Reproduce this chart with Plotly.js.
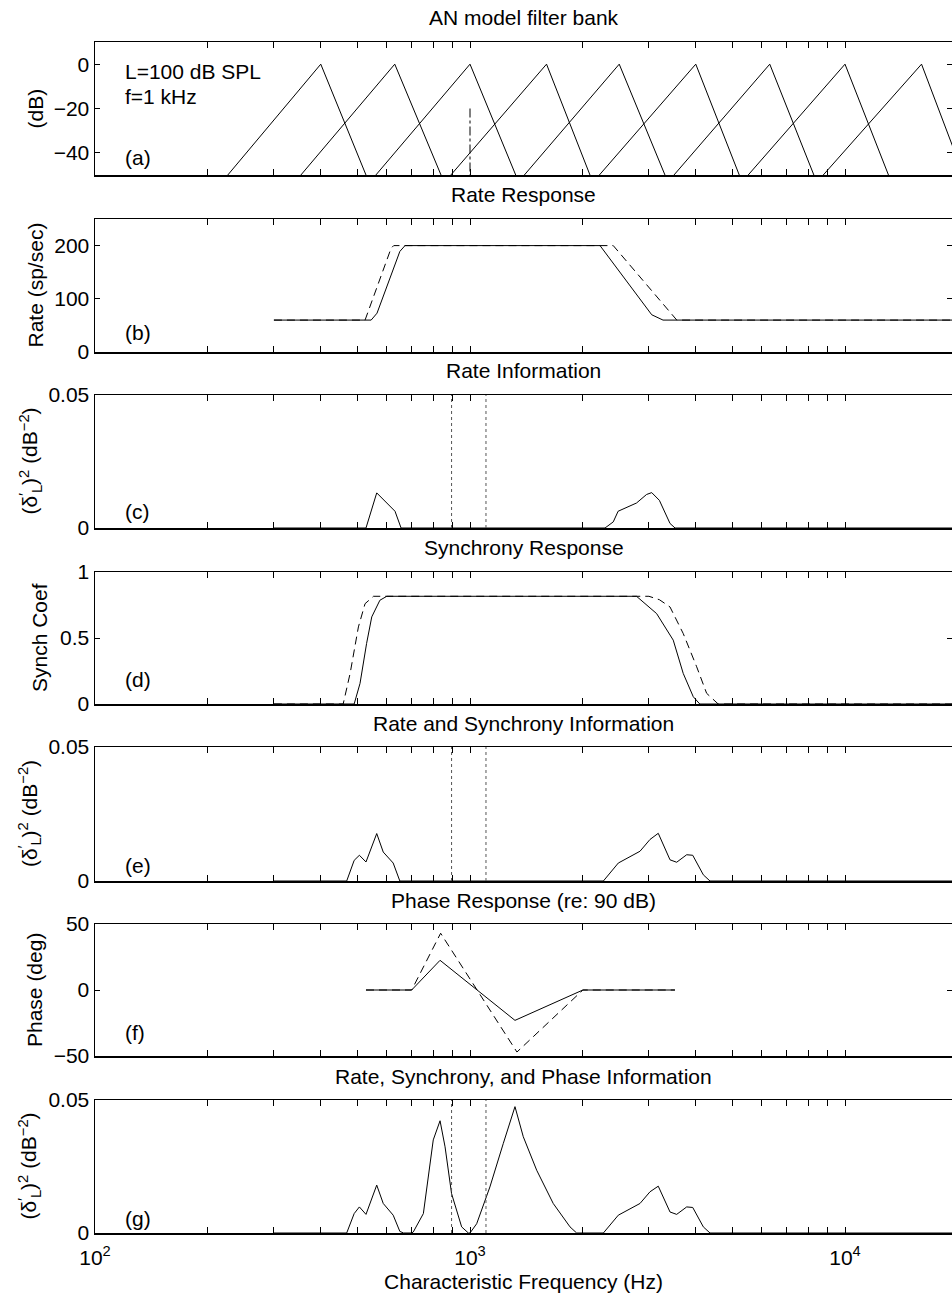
<!DOCTYPE html>
<html>
<head>
<meta charset="utf-8">
<script src="https://cdn.plot.ly/plotly-3.0.1.min.js"></script>
<style>
  html, body { margin: 0; padding: 0; background: #fff; overflow: hidden; }
  #chart { width: 952px; height: 1299px; }
</style>
</head>
<body>
<div id="chart"></div>
<script>
// ---------- data ----------
// (a) filter bank: centre frequency (peak at 0 dB) and the frequencies where each
// response has fallen to -50 dB on the low and high side
const filterCF       = [400, 630, 1000, 1600, 2500, 4000, 6300, 10000, 16000];
const filterLowEdge  = [226, 354, 561, 889, 1396, 2213, 3499, 5519, 8750];
const filterHighEdge = [528, 837, 1324, 2089, 3311, 5224, 8260, 13060, 20700];
const filterPeakDb = 0;
const filterFloorDb = -50;
const toneFreq = 1000;
const toneLevels = [-20, -50];

// (b) rate response, sp/sec (solid: L, dashed: L + dL)
const rateCF     = [300, 545, 565, 650, 671, 2222, 3052, 3271, 20000];
const rateSolid  = [60, 60, 73, 189, 200, 200, 70, 60, 60];
const rateCF2    = [300, 525, 616, 626, 2410, 3415, 3560, 20000];
const rateDashed = [60, 60, 195, 200, 200, 73, 60, 60];

// (c) rate information
const rateInfoCF = [300, 528, 564, 631, 655, 2291, 2410, 2483, 2780, 2957, 3052, 3199, 3415, 3522, 20000];
const rateInfo   = [0, 0, 0.0132, 0.0063, 0, 0, 0.0023, 0.0063, 0.0094, 0.0126, 0.0133, 0.0104, 0.0017, 0, 0];

// (d) synchrony coefficient
const synchCF     = [300, 491, 509, 530, 547, 575, 600, 2780, 3145, 3483, 3703, 3939, 4100, 20000];
const synchSolid  = [0, 0, 0.156, 0.459, 0.66, 0.786, 0.816, 0.816, 0.685, 0.484, 0.232, 0.055, 0, 0];
const synchCF2    = [300, 459, 479, 504, 525, 553, 3000, 3200, 3415, 3703, 4022, 4276, 4590, 20000];
const synchDashed = [0, 0, 0.232, 0.584, 0.76, 0.816, 0.816, 0.79, 0.735, 0.534, 0.282, 0.081, 0, 0];

// (e) rate and synchrony information
const rsInfoCF = [300, 469, 491, 507, 528, 564, 587, 624, 650, 2268, 2486, 2840, 3020, 3177, 3415, 3557, 3783, 3926, 4190, 4365, 20000];
const rsInfo   = [0, 0, 0.0077, 0.0096, 0.0071, 0.0177, 0.0108, 0.0067, 0, 0, 0.0067, 0.0111, 0.0155, 0.0178, 0.0079, 0.0070, 0.0098, 0.0096, 0.0023, 0, 0];

// (f) phase re: 90 dB, degrees
const phaseCF     = [528, 699, 832, 1318, 2000, 3520];
const phaseSolid  = [0, 0, 22.5, -23, 0, 0];
const phaseCF2    = [528, 699, 835, 1334, 2000, 3520];
const phaseDashed = [0, 0, 43, -47, 0, 0];

// (g) rate, synchrony and phase information
const allInfoCF = [300, 469, 491, 507, 528, 564, 587, 624, 650, 665, 699, 706, 751, 798, 832, 858, 893, 950, 990,
                   1000, 1042, 1130, 1227, 1318, 1387, 1506, 1667, 1848, 1925,
                   2268, 2486, 2840, 3020, 3177, 3415, 3557, 3783, 3926, 4190, 4365, 20000];
const allInfo   = [0, 0, 0.0073, 0.0098, 0.0070, 0.0180, 0.0111, 0.0067, 0.0006, 0, 0, 0.0004, 0.0073, 0.0350, 0.0422, 0.0324, 0.0148, 0.0023, 0,
                   0, 0.0035, 0.0173, 0.0337, 0.0475, 0.0362, 0.0236, 0.0111, 0.0023, 0,
                   0, 0.0067, 0.0111, 0.0155, 0.0176, 0.0079, 0.0070, 0.0098, 0.0096, 0.0023, 0, 0];

// just-noticeable frequency band drawn as dotted lines in the information panels
const jndBand = [893, 1103];

// axis text
const panelTitles = ['AN model filter bank', 'Rate Response', 'Rate Information', 'Synchrony Response',
                     'Rate and Synchrony Information', 'Phase Response (re: 90 dB)',
                     'Rate, Synchrony, and Phase Information'];
const deltaLabel = '(δ<sup>′</sup><sub>L</sub>)<sup>2</sup> (dB<sup>−2</sup>)';
const yTitles = ['(dB)', 'Rate (sp/sec)', deltaLabel, 'Synch Coef', deltaLabel, 'Phase (deg)', deltaLabel];
const panelLetters = ['(a)', '(b)', '(c)', '(d)', '(e)', '(f)', '(g)'];
const yRanges = [[-50, 10], [0, 250], [0, 0.05], [0, 1], [0, 0.05], [-50, 50], [0, 0.05]];
const yTickVals = [[-40, -20, 0], [0, 100, 200], [0, 0.05], [0, 0.5, 1], [0, 0.05], [-50, 0, 50], [0, 0.05]];
// x ticks: every 1..9 multiple of each decade, labels only on the decades
const xTickVals = [100, 200, 300, 400, 500, 600, 700, 800, 900,
                   1000, 2000, 3000, 4000, 5000, 6000, 7000, 8000, 9000,
                   10000, 20000];
const xTickText = ['10<sup>2</sup>', '', '', '', '', '', '', '', '',
                   '10<sup>3</sup>', '', '', '', '', '', '', '', '',
                   '10<sup>4</sup>', ''];
const xTitle = 'Characteristic Frequency (Hz)';

// ---------- layout geometry ----------
const W = 952, H = 1299, ML = 95;
const PX_PER_DECADE = 375;
const panelTop    = [42, 219, 395, 572, 747, 924, 1100];
const panelBottom = [175, 352, 528, 704, 881, 1056, 1233];
const yTitleCenter = [35, 35, 30, 40, 29, 35, 29];
const letterLift = [18, 20, 17, 24, 16, 24, 15];

const FONT = 'Liberation Sans, Arial, Helvetica, sans-serif';
const FS = 21;
const ax = k => (k === 0 ? '' : String(k + 1));

function line(xs, ys, k, dash) {
  return {
    type: 'scatter', mode: 'lines', x: xs, y: ys,
    xaxis: 'x' + ax(k), yaxis: 'y' + ax(k),
    line: { color: '#000', width: 1, dash: dash || 'solid' },
    hoverinfo: 'skip', showlegend: false
  };
}

const traces = [];

// (a) triangular filter shapes
const fx = [], fy = [];
filterCF.forEach((cf, i) => {
  fx.push(filterLowEdge[i], cf, filterHighEdge[i], null);
  fy.push(filterFloorDb, filterPeakDb, filterFloorDb, null);
});
traces.push(line(fx, fy, 0));
traces.push(line([toneFreq, toneFreq], toneLevels, 0, 'dashdot'));

// (b)
traces.push(line(rateCF, rateSolid, 1));
traces.push(line(rateCF2, rateDashed, 1, '8px,5px'));
// (c)
traces.push(line(rateInfoCF, rateInfo, 2));
// (d)
traces.push(line(synchCF, synchSolid, 3));
traces.push(line(synchCF2, synchDashed, 3, '8px,5px'));
// (e)
traces.push(line(rsInfoCF, rsInfo, 4));
// (f)
traces.push(line(phaseCF, phaseSolid, 5));
traces.push(line(phaseCF2, phaseDashed, 5, '8px,5px'));
// (g)
traces.push(line(allInfoCF, allInfo, 6));

// dotted band limits in the information panels
[2, 4, 6].forEach(k => {
  jndBand.forEach(f => {
    const t = line([f, f], yRanges[k], k, 'dot');
    t.line.color = '#555';
    traces.push(t);
  });
});

const layout = {
  width: W, height: H,
  margin: { l: ML, r: 0, t: 0, b: 0 },
  paper_bgcolor: '#fff', plot_bgcolor: '#fff',
  font: { family: FONT, size: FS, color: '#000' },
  showlegend: false,
  annotations: []
};

const xMax = 2 + (W - ML) / PX_PER_DECADE;

for (let k = 0; k < 7; k++) {
  const dom = [1 - panelBottom[k] / H, 1 - panelTop[k] / H];
  const last = k === 6;
  const xa = {
    type: 'log', range: [2, xMax], anchor: 'y' + ax(k),
    showline: true, linecolor: '#000', linewidth: 1.5, mirror: 'ticks',
    ticks: 'inside', ticklen: 6, tickwidth: 1, tickcolor: '#000',
    tickmode: 'array', tickvals: xTickVals, ticktext: xTickText,
    showticklabels: last, tickfont: { family: FONT, size: FS, color: '#000' },
    showgrid: false, zeroline: false, fixedrange: true
  };
  if (last) {
    xa.ticklabelstandoff = 5;
    xa.title = { text: xTitle, font: { family: FONT, size: FS, color: '#000' }, standoff: 6 };
  }
  layout['xaxis' + ax(k)] = xa;
  layout['yaxis' + ax(k)] = {
    domain: dom, range: yRanges[k], anchor: 'x' + ax(k),
    showline: true, linecolor: '#000', linewidth: 1.5, mirror: 'ticks',
    ticks: 'inside', ticklen: 5, tickwidth: 1, tickcolor: '#000',
    tickmode: 'array', tickvals: yTickVals[k],
    tickfont: { family: FONT, size: FS, color: '#000' },
    showgrid: false, zeroline: false, fixedrange: true
  };

  // panel title
  layout.annotations.push({
    xref: 'paper', yref: 'paper', x: 0.5, y: dom[1], xanchor: 'center', yanchor: 'middle',
    yshift: 24, showarrow: false, text: panelTitles[k], font: { family: FONT, size: FS, color: '#000' }
  });
  // y-axis title
  layout.annotations.push({
    xref: 'paper', yref: 'paper', x: 0, y: (dom[0] + dom[1]) / 2, xanchor: 'center', yanchor: 'middle',
    xshift: yTitleCenter[k] - ML, textangle: -90, showarrow: false, text: yTitles[k],
    font: { family: FONT, size: FS, color: '#000' }
  });
  // panel letter
  layout.annotations.push({
    xref: 'paper', yref: 'paper', x: 0, y: dom[0], xanchor: 'left', yanchor: 'middle',
    xshift: 28, yshift: letterLift[k], showarrow: false, text: panelLetters[k],
    font: { family: FONT, size: FS, color: '#000' }
  });
}

// stimulus description in panel (a)
const domA = [1 - panelBottom[0] / H, 1 - panelTop[0] / H];
layout.annotations.push({
  xref: 'paper', yref: 'paper', x: 0, y: domA[1], xanchor: 'left', yanchor: 'middle',
  xshift: 28, yshift: -30, showarrow: false, text: 'L=100 dB SPL', font: { family: FONT, size: FS, color: '#000' }
});
layout.annotations.push({
  xref: 'paper', yref: 'paper', x: 0, y: domA[1], xanchor: 'left', yanchor: 'middle',
  xshift: 28, yshift: -55, showarrow: false, text: 'f=1 kHz', font: { family: FONT, size: FS, color: '#000' }
});

Plotly.newPlot('chart', traces, layout, { staticPlot: true, displayModeBar: false });
</script>
</body>
</html>
